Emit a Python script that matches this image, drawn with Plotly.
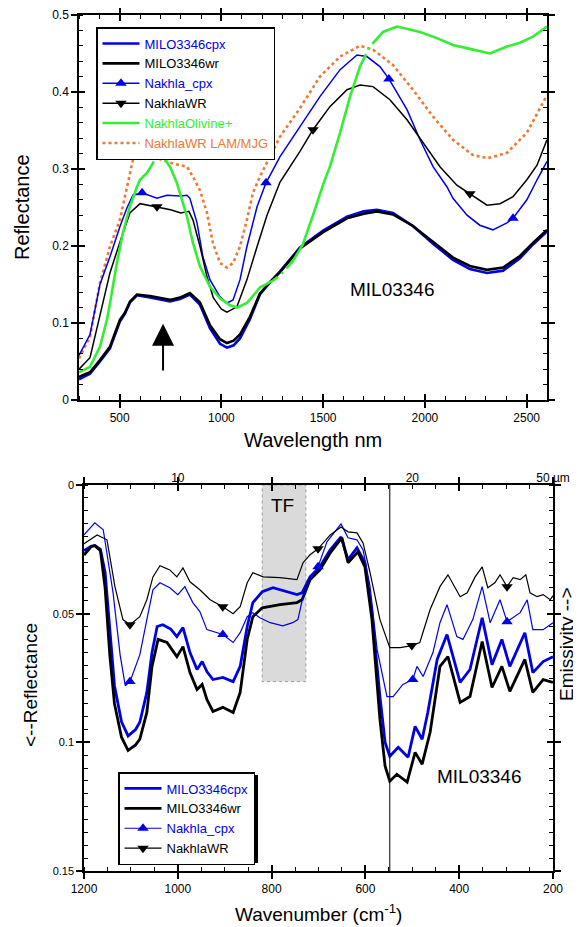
import plotly.graph_objects as go

# ---------------- DATA: top panel (VNIR reflectance) ----------------
top_milo_cpx_nm = [300, 354, 403, 452, 501, 525, 551, 585, 649, 700, 747, 796, 845, 894, 944, 993, 1027, 1060,
                   1091, 1140, 1189, 1239, 1288, 1386, 1500, 1617, 1700, 1764, 1843, 1941, 2040, 2138, 2221, 2305,
                   2384, 2467, 2531, 2600]
top_milo_cpx = [0.027, 0.034, 0.050, 0.067, 0.102, 0.112, 0.127, 0.136, 0.133, 0.130, 0.128, 0.131, 0.137, 0.124,
                0.093, 0.073, 0.068, 0.071, 0.080, 0.105, 0.137, 0.153, 0.167, 0.198, 0.220, 0.238, 0.245, 0.247,
                0.243, 0.226, 0.203, 0.182, 0.170, 0.165, 0.168, 0.184, 0.202, 0.219]
top_milo_wr_nm = top_milo_cpx_nm
top_milo_wr = [0.030, 0.036, 0.052, 0.069, 0.104, 0.113, 0.128, 0.137, 0.135, 0.132, 0.130, 0.133, 0.139, 0.127,
               0.097, 0.079, 0.074, 0.077, 0.085, 0.108, 0.138, 0.153, 0.166, 0.197, 0.218, 0.236, 0.242, 0.245,
               0.241, 0.226, 0.205, 0.185, 0.174, 0.169, 0.172, 0.187, 0.204, 0.221]
top_nakhla_cpx_nm = [300, 354, 403, 452, 501, 535, 565, 610, 683, 732, 800, 831, 845, 880, 909, 944, 993, 1027,
                     1057, 1091, 1125, 1175, 1219, 1288, 1386, 1484, 1583, 1666, 1715, 1779, 1823, 1912, 1976, 2040,
                     2108, 2138, 2207, 2270, 2334, 2403, 2433, 2501, 2551, 2600]
top_nakhla_cpx = [0.058, 0.085, 0.150, 0.186, 0.225, 0.249, 0.266, 0.269, 0.262, 0.266, 0.265, 0.266, 0.262, 0.230,
                  0.186, 0.156, 0.134, 0.126, 0.130, 0.156, 0.199, 0.251, 0.282, 0.316, 0.355, 0.394, 0.429, 0.448,
                  0.446, 0.433, 0.417, 0.377, 0.338, 0.303, 0.277, 0.262, 0.240, 0.227, 0.221, 0.230, 0.236, 0.260,
                  0.286, 0.310]
top_nakhla_cpx_marks = [610, 1219, 1823, 2433]
top_nakhla_wr_nm = [300, 354, 403, 452, 501, 550, 600, 650, 683, 750, 800, 840, 860, 895, 929, 960, 1000, 1027,
                    1076, 1125, 1175, 1224, 1288, 1386, 1450, 1533, 1617, 1681, 1745, 1828, 1912, 1991, 2074, 2157,
                    2221, 2305, 2369, 2433, 2501, 2551, 2600]
top_nakhla_wr = [0.040, 0.055, 0.110, 0.165, 0.205, 0.243, 0.255, 0.252, 0.251, 0.247, 0.243, 0.245, 0.234, 0.199,
                 0.160, 0.133, 0.118, 0.114, 0.121, 0.156, 0.199, 0.240, 0.283, 0.323, 0.351, 0.381, 0.403, 0.409,
                 0.407, 0.390, 0.364, 0.334, 0.303, 0.279, 0.268, 0.253, 0.255, 0.264, 0.286, 0.305, 0.338]
top_nakhla_wr_marks = [683, 1450, 2221]
top_olivine_nm = [300, 354, 403, 437, 452, 486, 516, 550, 585, 600, 634, 664, 688, 713, 747, 781, 806, 831, 860,
                  895, 944, 993, 1042, 1076, 1125, 1189, 1253, 1288, 1350, 1400, 1450, 1500, 1533, 1583, 1632, 1681,
                  1730, 1794, 1863, 1912, 1976, 2059, 2138, 2221, 2320, 2403, 2467, 2531, 2600]
top_olivine = [0.036, 0.043, 0.069, 0.104, 0.125, 0.178, 0.217, 0.251, 0.277, 0.286, 0.295, 0.308, 0.321, 0.316,
               0.303, 0.282, 0.260, 0.238, 0.204, 0.173, 0.147, 0.132, 0.123, 0.120, 0.126, 0.146, 0.155, 0.162,
               0.180, 0.202, 0.240, 0.280, 0.303, 0.347, 0.394, 0.433, 0.459, 0.478, 0.485, 0.482, 0.478, 0.470,
               0.461, 0.456, 0.450, 0.459, 0.464, 0.472, 0.485]
top_lam_nm = [300, 354, 403, 452, 501, 536, 565, 600, 664, 762, 831, 860, 895, 929, 958, 993, 1027, 1057, 1091,
              1125, 1155, 1189, 1224, 1288, 1386, 1484, 1583, 1681, 1745, 1843, 1941, 2040, 2138, 2236, 2310, 2403,
              2501, 2600]
top_lam = [0.054, 0.082, 0.152, 0.199, 0.234, 0.277, 0.312, 0.317, 0.316, 0.307, 0.303, 0.290, 0.272, 0.243, 0.204,
           0.178, 0.172, 0.178, 0.199, 0.234, 0.269, 0.290, 0.308, 0.342, 0.379, 0.420, 0.446, 0.460, 0.455, 0.435,
           0.403, 0.368, 0.338, 0.318, 0.314, 0.321, 0.347, 0.396]

# ---------------- DATA: bottom panel (thermal IR) ----------------
bot_milo_cpx_wn = [1200, 1185, 1177, 1165, 1155, 1145, 1135, 1120, 1106, 1090, 1081, 1066, 1055, 1044, 1032, 1015,
                   1002, 989, 974, 959, 948, 938, 925, 904, 882, 867, 852, 840, 820, 797, 767, 746, 735, 718, 697,
                   675, 652, 637, 618, 601, 586, 569, 558, 548, 530, 509, 494, 479, 467, 447, 426, 398, 377, 351, 330,
                   309, 292, 260, 243, 221, 200]
bot_milo_cpx = [0.0255, 0.0238, 0.0235, 0.0250, 0.0340, 0.0560, 0.0780, 0.0920, 0.0975, 0.0950, 0.0922, 0.0806,
                0.0651, 0.0550, 0.0543, 0.0560, 0.0589, 0.0554, 0.0651, 0.0717, 0.0686, 0.0725, 0.0756, 0.0748,
                0.0764, 0.0705, 0.0550, 0.0457, 0.0415, 0.0399, 0.0415, 0.0426, 0.0419, 0.0357, 0.0318, 0.0252,
                0.0202, 0.0290, 0.0244, 0.0302, 0.0496, 0.0822, 0.1000, 0.1054, 0.1019, 0.1058, 0.0938, 0.0988,
                0.0884, 0.0678, 0.0581, 0.0767, 0.0717, 0.0516, 0.0698, 0.0600, 0.0705, 0.0574, 0.0729, 0.0686,
                0.0667]
bot_milo_wr_wn = [1200, 1185, 1177, 1165, 1155, 1145, 1135, 1120, 1106, 1090, 1081, 1066, 1055, 1042, 1023, 1002,
                  989, 974, 959, 948, 938, 925, 904, 882, 867, 852, 840, 820, 782, 746, 735, 718, 697, 675, 650, 637,
                  616, 601, 586, 569, 558, 548, 533, 511, 494, 479, 462, 441, 424, 398, 377, 351, 330, 309, 292, 260,
                  243, 221, 200]
bot_milo_wr = [0.0272, 0.0240, 0.0236, 0.0255, 0.0400, 0.0660, 0.0850, 0.0980, 0.1031, 0.1010, 0.0988, 0.0884,
               0.0705, 0.0600, 0.0612, 0.0667, 0.0628, 0.0729, 0.0795, 0.0775, 0.0833, 0.0880, 0.0864, 0.0884,
               0.0806, 0.0600, 0.0512, 0.0477, 0.0465, 0.0457, 0.0446, 0.0368, 0.0330, 0.0264, 0.0205, 0.0302,
               0.0260, 0.0318, 0.0523, 0.0911, 0.1093, 0.1151, 0.1124, 0.1155, 0.1039, 0.1085, 0.0961, 0.0705,
               0.0667, 0.0845, 0.0822, 0.0608, 0.0787, 0.0705, 0.0802, 0.0678, 0.0806, 0.0756, 0.0767]
bot_nakhla_cpx_wn = [1200, 1177, 1159, 1138, 1123, 1112, 1102, 1081, 1066, 1053, 1038, 1017, 1000, 985, 968, 953,
                     938, 904, 882, 867, 852, 840, 825, 803, 776, 755, 744, 733, 718, 701, 682, 652, 637, 618, 605,
                     590, 575, 554, 541, 520, 499, 490, 477, 456, 441, 426, 405, 392, 371, 351, 334, 313, 298, 270,
                     255, 243, 221, 200]
bot_nakhla_cpx = [0.0194, 0.0147, 0.0174, 0.0419, 0.0660, 0.0780, 0.0764, 0.0660, 0.0523, 0.0407, 0.0380, 0.0399,
                  0.0426, 0.0395, 0.0457, 0.0492, 0.0562, 0.0581, 0.0612, 0.0574, 0.0512, 0.0496, 0.0516, 0.0535,
                  0.0547, 0.0535, 0.0523, 0.0434, 0.0368, 0.0318, 0.0221, 0.0151, 0.0205, 0.0213, 0.0252, 0.0395,
                  0.0640, 0.0822, 0.0822, 0.0775, 0.0756, 0.0705, 0.0744, 0.0651, 0.0535, 0.0465, 0.0589, 0.0600,
                  0.0523, 0.0395, 0.0535, 0.0446, 0.0531, 0.0496, 0.0446, 0.0562, 0.0562, 0.0535]
bot_nakhla_cpx_marks = [1102, 904, 701, 499, 298]
bot_nakhla_wr_wn = [1200, 1172, 1151, 1134, 1117, 1102, 1081, 1066, 1053, 1038, 1017, 1002, 989, 974, 953, 931, 904,
                    882, 867, 852, 840, 818, 782, 746, 733, 718, 701, 675, 652, 637, 618, 605, 590, 569, 548, 526,
                    501, 484, 462, 441, 424, 409, 398, 383, 366, 351, 339, 324, 313, 298, 285, 270, 258, 249, 234,
                    221, 206, 200]
bot_nakhla_wr = [0.0228, 0.0194, 0.0213, 0.0395, 0.0523, 0.0543, 0.0512, 0.0446, 0.0357, 0.0314, 0.0330, 0.0357,
                 0.0322, 0.0376, 0.0407, 0.0446, 0.0473, 0.0500, 0.0473, 0.0380, 0.0341, 0.0357, 0.0360, 0.0368,
                 0.0302, 0.0271, 0.0248, 0.0194, 0.0163, 0.0182, 0.0186, 0.0225, 0.0341, 0.0523, 0.0632, 0.0632,
                 0.0624, 0.0612, 0.0484, 0.0395, 0.0349, 0.0395, 0.0434, 0.0419, 0.0357, 0.0318, 0.0399, 0.0380,
                 0.0349, 0.0395, 0.0360, 0.0368, 0.0349, 0.0419, 0.0434, 0.0426, 0.0446, 0.0430]
bot_nakhla_wr_marks = [1102, 904, 701, 501, 298]

um_tick_wn = [1000, 500, 200]
um_tick_text = ["10", "20", "50 µm"]
tf_band = [820, 727]
tf_depth = 0.0764
vline_wn = 548

# ---------------- STYLE ----------------
W, H = 581, 927
OFF = 8  # page body margin offset (screen px)
FONT = "Arial, Liberation Sans, Helvetica, sans-serif"
BLUE = "#0000e6"
BLACK = "#000000"
GREEN = "#33ee33"
ORANGE = "#f07830"


def pxx(x):
    return (x - OFF) / W


def pxy(y):
    return 1 - (y - OFF) / H


def pick(xs, ys, marks):
    d = dict(zip(xs, ys))
    return [d[m] for m in marks]


def lab(text, color):
    return f"<span style='color:{color}'>{text}</span>"


fig = go.Figure()

# ---- top panel traces ----
fig.add_trace(go.Scatter(x=top_milo_cpx_nm, y=top_milo_cpx, mode="lines", line=dict(color=BLUE, width=2.6),
                         name=lab("MILO3346cpx", BLUE), legendrank=1, legend="legend"))
fig.add_trace(go.Scatter(x=top_milo_wr_nm, y=top_milo_wr, mode="lines", line=dict(color=BLACK, width=2.6),
                         name=lab("MILO3346wr", BLACK), legendrank=2, legend="legend"))
fig.add_trace(go.Scatter(x=top_lam_nm, y=top_lam, mode="lines", line=dict(color=ORANGE, width=2.6, dash="dot"),
                         name=lab("NakhlaWR LAM/MJG", ORANGE), legendrank=6, legend="legend"))
fig.add_trace(go.Scatter(x=top_nakhla_cpx_nm, y=top_nakhla_cpx, mode="lines", line=dict(color=BLUE, width=1.5),
                         showlegend=False))
fig.add_trace(go.Scatter(x=top_nakhla_cpx_marks, y=pick(top_nakhla_cpx_nm, top_nakhla_cpx, top_nakhla_cpx_marks),
                         mode="markers", marker=dict(symbol="triangle-up", size=10, color=BLUE), showlegend=False))
fig.add_trace(go.Scatter(x=[None], y=[None], mode="lines+markers", line=dict(color=BLUE, width=1.5),
                         marker=dict(symbol="triangle-up", size=10, color=BLUE),
                         name=lab("Nakhla_cpx", BLUE), legendrank=3, legend="legend"))
fig.add_trace(go.Scatter(x=top_nakhla_wr_nm, y=top_nakhla_wr, mode="lines", line=dict(color=BLACK, width=1.5),
                         showlegend=False))
fig.add_trace(go.Scatter(x=top_nakhla_wr_marks, y=pick(top_nakhla_wr_nm, top_nakhla_wr, top_nakhla_wr_marks),
                         mode="markers", marker=dict(symbol="triangle-down", size=10, color=BLACK), showlegend=False))
fig.add_trace(go.Scatter(x=[None], y=[None], mode="lines+markers", line=dict(color=BLACK, width=1.5),
                         marker=dict(symbol="triangle-down", size=10, color=BLACK),
                         name=lab("NakhlaWR", BLACK), legendrank=4, legend="legend"))
fig.add_trace(go.Scatter(x=top_olivine_nm, y=top_olivine, mode="lines",
                         line=dict(color=GREEN, width=2.6, dash="230px,5px,2px,5px"),
                         name=lab("NakhlaOlivine+", GREEN), legendrank=5, legend="legend"))

# ---- bottom panel traces ----
fig.add_trace(go.Scatter(x=bot_milo_cpx_wn, y=bot_milo_cpx, mode="lines", line=dict(color=BLUE, width=2.8),
                         xaxis="x2", yaxis="y2", name=lab("MILO3346cpx", BLUE), legendrank=1, legend="legend2"))
fig.add_trace(go.Scatter(x=bot_milo_wr_wn, y=bot_milo_wr, mode="lines", line=dict(color=BLACK, width=2.8),
                         xaxis="x2", yaxis="y2", name=lab("MILO3346wr", BLACK), legendrank=2, legend="legend2"))
fig.add_trace(go.Scatter(x=bot_nakhla_cpx_wn, y=bot_nakhla_cpx, mode="lines", line=dict(color=BLUE, width=1.2),
                         xaxis="x2", yaxis="y2", showlegend=False))
fig.add_trace(go.Scatter(x=bot_nakhla_cpx_marks, y=pick(bot_nakhla_cpx_wn, bot_nakhla_cpx, bot_nakhla_cpx_marks),
                         mode="markers", marker=dict(symbol="triangle-up", size=10, color=BLUE),
                         xaxis="x2", yaxis="y2", showlegend=False))
fig.add_trace(go.Scatter(x=[None], y=[None], mode="lines+markers", line=dict(color=BLUE, width=1.2),
                         marker=dict(symbol="triangle-up", size=10, color=BLUE), xaxis="x2", yaxis="y2",
                         name=lab("Nakhla_cpx", BLUE), legendrank=3, legend="legend2"))
fig.add_trace(go.Scatter(x=bot_nakhla_wr_wn, y=bot_nakhla_wr, mode="lines", line=dict(color=BLACK, width=1.2),
                         xaxis="x2", yaxis="y2", showlegend=False))
fig.add_trace(go.Scatter(x=bot_nakhla_wr_marks, y=pick(bot_nakhla_wr_wn, bot_nakhla_wr, bot_nakhla_wr_marks),
                         mode="markers", marker=dict(symbol="triangle-down", size=10, color=BLACK),
                         xaxis="x2", yaxis="y2", showlegend=False))
fig.add_trace(go.Scatter(x=[None], y=[None], mode="lines+markers", line=dict(color=BLACK, width=1.2),
                         marker=dict(symbol="triangle-down", size=10, color=BLACK), xaxis="x2", yaxis="y2",
                         name=lab("NakhlaWR", BLACK), legendrank=4, legend="legend2"))

# empty traces that register the overlay axes (micrometre labels, inward tick halves)
for xa, ya in [("x3", "y2"), ("x4", "y3"), ("x5", "y4")]:
    fig.add_trace(go.Scatter(x=[None], y=[None], xaxis=xa, yaxis=ya, showlegend=False, hoverinfo="skip"))

tickfont = dict(family=FONT, size=12, color="black")


def main_axis(**kw):
    d = dict(showline=True, linecolor="black", linewidth=1.5, ticks="outside", ticklen=6, tickwidth=1.5,
             tickcolor="black", showgrid=False, zeroline=False, mirror="ticks", tickfont=tickfont,
             automargin=False)
    d.update(kw)
    return d


def inner_axis(**kw):
    d = dict(showline=False, ticks="inside", ticklen=6, tickwidth=1.5, tickcolor="black", showgrid=False,
             zeroline=False, mirror="ticks", showticklabels=False, automargin=False)
    d.update(kw)
    return d


def minor(dt):
    return dict(ticks="inside", ticklen=4, tickwidth=1, tickcolor="black", dtick=dt, showgrid=False)


xd_top = [pxx(79), pxx(547)]
yd_top = [pxy(400), pxy(15)]
xd_bot = [pxx(84), pxx(553)]
yd_bot = [pxy(871), pxy(485)]

fig.update_layout(
    template="none",
    width=W, height=H, margin=dict(l=0, r=0, t=0, b=0, pad=0, autoexpand=False),
    paper_bgcolor="white", plot_bgcolor="white",
    font=dict(family=FONT, color="black"),
    xaxis=main_axis(domain=xd_top, range=[300, 2600], dtick=500, anchor="y", minor=minor(100)),
    yaxis=main_axis(domain=yd_top, range=[0, 0.5], dtick=0.1, anchor="x", minor=minor(0.02)),
    xaxis2=main_axis(domain=xd_bot, range=[1200, 200], dtick=200, anchor="y2", minor=minor(50)),
    yaxis2=main_axis(domain=yd_bot, range=[0.15, 0], dtick=0.05, anchor="x2",
                     tickfont=dict(family=FONT, size=11, color="black"), minor=minor(0.005)),
    xaxis3=dict(overlaying="x2", anchor="y2", side="top", range=[1200, 200], tickmode="array",
                tickvals=um_tick_wn, ticktext=um_tick_text, ticks="", showline=False, showgrid=False,
                zeroline=False, tickfont=tickfont, automargin=False),
    xaxis4=inner_axis(overlaying="x", anchor="y", range=[300, 2600], dtick=500),
    yaxis3=inner_axis(overlaying="y", anchor="x", range=[0, 0.5], dtick=0.1),
    xaxis5=inner_axis(overlaying="x2", anchor="y2", range=[1200, 200], dtick=200),
    yaxis4=inner_axis(overlaying="y2", anchor="x2", range=[0.15, 0], dtick=0.05),
    legend=dict(x=pxx(96), y=pxy(27), xanchor="left", yanchor="top", bgcolor="white", bordercolor="black",
                borderwidth=1.5, font=dict(family=FONT, size=13), itemwidth=37, tracegroupgap=0,
                traceorder="normal"),
    legend2=dict(x=pxx(118), y=pxy(772), xanchor="left", yanchor="top", bgcolor="white", bordercolor="black",
                 borderwidth=1.5, font=dict(family=FONT, size=13), itemwidth=37, tracegroupgap=0,
                 traceorder="normal"),
    showlegend=True,
)

shapes = [
    dict(type="rect", xref="x2", yref="y2", x0=tf_band[0], x1=tf_band[1], y0=0, y1=tf_depth,
         fillcolor="#dadada", line=dict(color="#9a9a9a", width=1, dash="dot"), layer="below"),
    dict(type="line", xref="x2", yref="y2 domain", x0=vline_wn, x1=vline_wn, y0=0, y1=1,
         line=dict(color="black", width=1)),
    # legend drop shadows
    dict(type="rect", xref="paper", yref="paper", x0=pxx(99), x1=pxx(274), y0=pxy(160), y1=pxy(30),
         fillcolor="black", line=dict(width=0), layer="above"),
    dict(type="rect", xref="paper", yref="paper", x0=pxx(121), x1=pxx(258), y0=pxy(863), y1=pxy(775),
         fillcolor="black", line=dict(width=0), layer="above"),
]
fig.update_layout(shapes=shapes)


def note(text, x, y, **kw):
    d = dict(text=text, x=x, y=y, xref="paper", yref="paper", showarrow=False, xanchor="center",
             yanchor="middle")
    d.update(kw)
    return d


ann = [
    note("Reflectance", pxx(22), pxy(207), textangle=-90, font=dict(size=20)),
    note("Wavelength nm", pxx(313), pxy(440), font=dict(size=20)),
    note("MIL03346", 1843, 0.143, xref="x", yref="y", font=dict(size=19)),
    dict(text=" ", x=713, y=0.099, ax=713, ay=0.035, xref="x", yref="y", axref="x", ayref="y", showarrow=True,
         arrowhead=2, arrowsize=2.2, arrowwidth=2, arrowcolor="black", font=dict(size=2)),
    note("TF", 776, 0.0078, xref="x2", yref="y2", font=dict(size=19)),
    note("MIL03346", 356, 0.1132, xref="x2", yref="y2", font=dict(size=19)),
    note("<--Reflectance", pxx(30), pxy(685), textangle=-90, font=dict(size=19)),
    note("Emissivity -->", pxx(566), pxy(645), textangle=-90, font=dict(size=19)),
    note("Wavenumber (cm<sup>-1</sup>)", pxx(318), pxy(913), font=dict(size=19)),
]
fig.update_layout(annotations=ann)

fig.write_html("out.html")
